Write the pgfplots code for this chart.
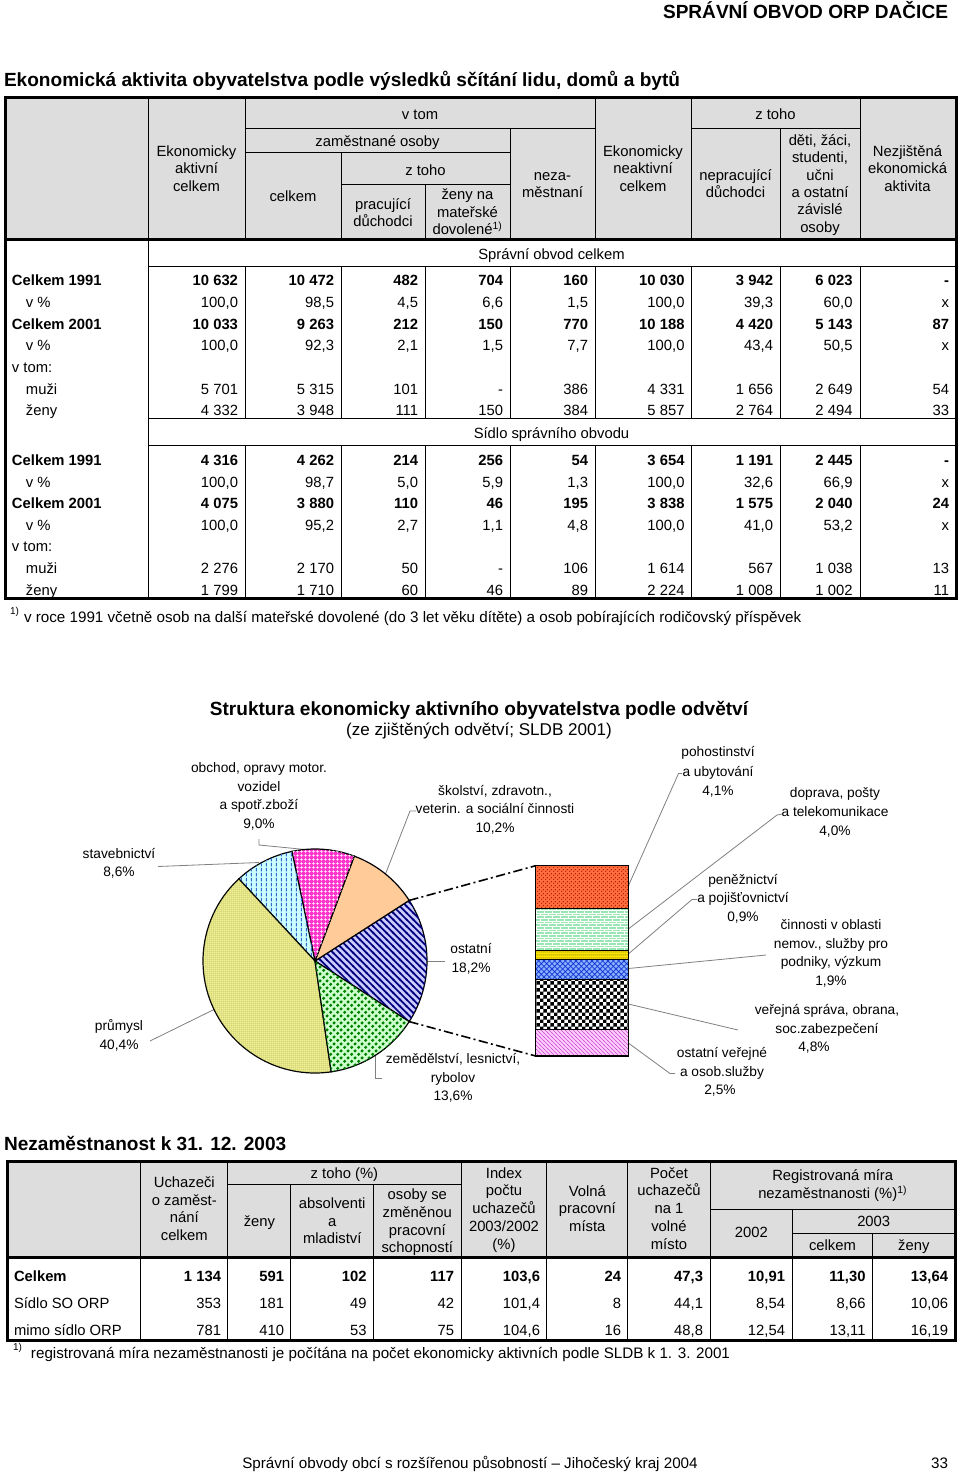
\documentclass[border=0pt]{standalone}
\usepackage{fontspec}
\setmainfont{Liberation Sans}
\usepackage{pgfplots}
\pgfplotsset{compat=1.18}
\usepackage{pgfplotstable}
\usetikzlibrary{patterns}

\definecolor{hdr}{RGB}{221,221,221}
\definecolor{lav}{RGB}{204,204,255}
\definecolor{navyS}{RGB}{0,0,128}
\definecolor{peach}{RGB}{255,204,153}
\definecolor{mgt}{RGB}{255,51,204}
\definecolor{lcyan}{RGB}{204,255,255}
\definecolor{blueD}{RGB}{51,102,204}
\definecolor{lyel}{RGB}{255,255,153}
\definecolor{dotG}{RGB}{90,90,50}
\definecolor{lgreen}{RGB}{204,255,204}
\definecolor{dgreen}{RGB}{0,128,0}
\definecolor{orng}{RGB}{255,110,60}
\definecolor{dred}{RGB}{170,20,0}
\definecolor{mint}{RGB}{153,230,179}
\definecolor{yel}{RGB}{255,230,0}
\definecolor{bluM}{RGB}{140,175,255}
\definecolor{bluD}{RGB}{20,60,210}
\definecolor{pinkL}{RGB}{255,204,255}
\definecolor{magL}{RGB}{204,80,204}
\definecolor{leader}{RGB}{128,128,128}

\pgfdeclarepatternformonly{thickNW}{\pgfqpoint{-1pt}{-1pt}}{\pgfqpoint{6pt}{6pt}}{\pgfqpoint{5pt}{5pt}}{%
  \pgfsetlinewidth{1.3pt}%
  \pgfpathmoveto{\pgfqpoint{-0.5pt}{5.5pt}}\pgfpathlineto{\pgfqpoint{5.5pt}{-0.5pt}}%
  \pgfusepath{stroke}}
\pgfdeclarepatternformonly{gdots}{\pgfpointorigin}{\pgfqpoint{5.5pt}{5.5pt}}{\pgfqpoint{5.5pt}{5.5pt}}{%
  \pgfpathcircle{\pgfqpoint{1.375pt}{1.375pt}}{1.4pt}%
  \pgfpathcircle{\pgfqpoint{4.125pt}{4.125pt}}{1.4pt}%
  \pgfusepath{fill}}
\pgfdeclarepatternformonly{vdash}{\pgfpointorigin}{\pgfqpoint{4pt}{4pt}}{\pgfqpoint{4pt}{4pt}}{%
  \pgfsetlinewidth{0.7pt}%
  \pgfpathmoveto{\pgfqpoint{2pt}{0.6pt}}\pgfpathlineto{\pgfqpoint{2pt}{3.4pt}}%
  \pgfusepath{stroke}}
\pgfdeclarepatternformonly{wgrid}{\pgfpointorigin}{\pgfqpoint{3pt}{3pt}}{\pgfqpoint{3pt}{3pt}}{%
  \pgfsetlinewidth{0.6pt}%
  \pgfpathmoveto{\pgfqpoint{0pt}{1.5pt}}\pgfpathlineto{\pgfqpoint{3pt}{1.5pt}}%
  \pgfpathmoveto{\pgfqpoint{1.5pt}{0pt}}\pgfpathlineto{\pgfqpoint{1.5pt}{3pt}}%
  \pgfusepath{stroke}}
\pgfdeclarepatternformonly{xhatch}{\pgfqpoint{-0.5pt}{-0.5pt}}{\pgfqpoint{4.5pt}{4.5pt}}{\pgfqpoint{4pt}{4pt}}{%
  \pgfsetlinewidth{0.6pt}%
  \pgfpathmoveto{\pgfqpoint{0pt}{0pt}}\pgfpathlineto{\pgfqpoint{4pt}{4pt}}%
  \pgfpathmoveto{\pgfqpoint{0pt}{4pt}}\pgfpathlineto{\pgfqpoint{4pt}{0pt}}%
  \pgfusepath{stroke}}
\pgfdeclarepatternformonly{checks}{\pgfpointorigin}{\pgfqpoint{5.2pt}{5.2pt}}{\pgfqpoint{5.2pt}{5.2pt}}{%
  \pgfpathrectangle{\pgfpointorigin}{\pgfqpoint{2.6pt}{2.6pt}}%
  \pgfpathrectangle{\pgfqpoint{2.6pt}{2.6pt}}{\pgfqpoint{2.6pt}{2.6pt}}%
  \pgfusepath{fill}}
\pgfdeclarepatternformonly{finedots}{\pgfpointorigin}{\pgfqpoint{1.8pt}{1.8pt}}{\pgfqpoint{1.8pt}{1.8pt}}{%
  \pgfpathcircle{\pgfqpoint{0.9pt}{0.9pt}}{0.5pt}\pgfusepath{fill}}
\pgfdeclarepatternformonly{meddots}{\pgfpointorigin}{\pgfqpoint{2.6pt}{2.6pt}}{\pgfqpoint{2.6pt}{2.6pt}}{%
  \pgfpathcircle{\pgfqpoint{0.65pt}{0.65pt}}{0.6pt}%
  \pgfpathcircle{\pgfqpoint{1.95pt}{1.95pt}}{0.6pt}\pgfusepath{fill}}
\pgfdeclarepatternformonly{thinNW}{\pgfqpoint{-0.5pt}{-0.5pt}}{\pgfqpoint{3.5pt}{3.5pt}}{\pgfqpoint{3pt}{3pt}}{%
  \pgfsetlinewidth{0.5pt}%
  \pgfpathmoveto{\pgfqpoint{-0.3pt}{3.3pt}}\pgfpathlineto{\pgfqpoint{3.3pt}{-0.3pt}}\pgfusepath{stroke}}
\pgfdeclarepatternformonly{wbricks}{\pgfqpoint{-0.5pt}{-0.5pt}}{\pgfqpoint{6.5pt}{4.5pt}}{\pgfqpoint{6pt}{4pt}}{%
  \pgfsetlinewidth{0.6pt}%
  \pgfpathmoveto{\pgfqpoint{0pt}{0pt}}\pgfpathlineto{\pgfqpoint{6pt}{0pt}}%
  \pgfpathmoveto{\pgfqpoint{0pt}{2pt}}\pgfpathlineto{\pgfqpoint{6pt}{2pt}}%
  \pgfpathmoveto{\pgfqpoint{0pt}{0pt}}\pgfpathlineto{\pgfqpoint{0pt}{2pt}}%
  \pgfpathmoveto{\pgfqpoint{3pt}{2pt}}\pgfpathlineto{\pgfqpoint{3pt}{4pt}}%
  \pgfusepath{stroke}}

% pie data (percent of economically active, SLDB 2001)
\pgfplotstableread{
sector value
ostatni 18.2
skolstvi 10.2
obchod 9.0
stavebnictvi 8.6
prumysl 40.4
zemedelstvi 13.6
}\piedata
\pgfplotstablegetelem{0}{value}\of\piedata\let\vA\pgfplotsretval
\pgfplotstablegetelem{1}{value}\of\piedata\let\vB\pgfplotsretval
\pgfplotstablegetelem{2}{value}\of\piedata\let\vC\pgfplotsretval
\pgfplotstablegetelem{3}{value}\of\piedata\let\vD\pgfplotsretval
\pgfplotstablegetelem{4}{value}\of\piedata\let\vE\pgfplotsretval
\pgfplotstablegetelem{5}{value}\of\piedata\let\vF\pgfplotsretval
\pgfmathsetmacro\aA{-\vA*1.8}
\pgfmathsetmacro\aB{\aA+\vA*3.6}
\pgfmathsetmacro\aC{\aB+\vB*3.6}
\pgfmathsetmacro\aD{\aC+\vC*3.6}
\pgfmathsetmacro\aE{\aD+\vD*3.6}
\pgfmathsetmacro\aF{\aE+\vE*3.6}
\pgfmathsetmacro\aG{\aF+\vF*3.6}

\newcommand\pieslice[3]{\draw[black,line width=0.9pt,#3] (axis cs:0,0) -- ++(#1:84pt) arc[start angle=#1,end angle=#2,radius=84pt] -- cycle;}

\newcommand\tf{\fontsize{11.1pt}{13pt}\selectfont}
\newcommand\ff{\fontsize{11.4pt}{13pt}\selectfont}
\newcommand\lf{\fontsize{10.3pt}{12pt}\selectfont}
\newcommand\hf{\fontsize{14.3pt}{17pt}\selectfont\bfseries}
\newcommand\tC[3]{\node[anchor=base] at (#1,#2) {#3};}
\newcommand\tL[3]{\node[anchor=base west] at (#1,#2) {#3};}
\newcommand\tR[3]{\node[anchor=base east] at (#1,#2) {#3};}
\def\rf{}
\def\rowy{0}
\newcommand\trow[9]{%
 \tR{238}{\rowy}{\rf #1}\tR{334}{\rowy}{\rf #2}\tR{418}{\rowy}{\rf #3}%
 \tR{503}{\rowy}{\rf #4}\tR{588}{\rowy}{\rf #5}\tR{684.5}{\rowy}{\rf #6}%
 \tR{773}{\rowy}{\rf #7}\tR{852.5}{\rowy}{\rf #8}\tR{949}{\rowy}{\rf #9}}
\newcommand\urow[9]{%
 \tR{221}{\rowy}{\rf #1}\tR{284}{\rowy}{\rf #2}\tR{366.5}{\rowy}{\rf #3}%
 \tR{454}{\rowy}{\rf #4}\tR{540}{\rowy}{\rf #5}\tR{621}{\rowy}{\rf #6}%
 \tR{703}{\rowy}{\rf #7}\tR{785}{\rowy}{\rf #8}\tR{865.5}{\rowy}{\rf #9}}

\begin{document}
\begin{tikzpicture}
\begin{scope}[x=0.75pt,y=-0.75pt,font=\tf,every node/.style={inner sep=0pt,outer sep=0pt}]
\fill[white] (0,0) rectangle (960,1473);

% page header and title
\tR{948}{19}{\hf SPRÁVNÍ OBVOD ORP DAČICE}
\tL{4}{86.5}{\hf Ekonomická aktivita obyvatelstva podle výsledků sčítání lidu, domů a bytů}

% ---------- top table ----------
\fill[hdr] (5,97.5) rectangle (956,239.3);
\begin{scope}[line width=0.75pt]
\draw (148,97.5) -- (148,598.5);
\foreach \x in {245,595,691,860} \draw (\x,97.5) -- (\x,239.3);
\draw (510,128.3) -- (510,239.3); \draw (780,128.3) -- (780,239.3);
\draw (341,152.7) -- (341,239.3); \draw (425,185) -- (425,239.3);
\draw (245,128.3) -- (595,128.3); \draw (691,128.3) -- (860,128.3);
\draw (245,152.7) -- (510,152.7); \draw (341,185) -- (510,185);
\foreach \x in {245,341,425,510,595,691,780,860} {\draw (\x,266.7) -- (\x,418.3); \draw (\x,445) -- (\x,598.5);}
\draw (148,266.7) -- (956,266.7); \draw (148,418.3) -- (956,418.3); \draw (148,445) -- (956,445);
\end{scope}
\draw[line width=2.25pt] (5,97.5) rectangle (956,598.5);
\draw[line width=2.25pt] (5,239.3) -- (956,239.3);

\tC{420}{119.5}{v tom}
\tC{775.5}{119.5}{z toho}
\tC{377.5}{146.5}{zaměstnané osoby}
\tC{425.5}{175.5}{z toho}
\tC{196.5}{156.5}{Ekonomicky}\tC{196.5}{173.8}{aktivní}\tC{196.5}{191.1}{celkem}
\tC{293}{201.5}{celkem}
\tC{383}{209.5}{pracující}\tC{383}{226.8}{důchodci}
\tC{467.5}{200}{ženy na}\tC{467.5}{217.5}{mateřské}\tC{467.5}{235}{dovolené\textsuperscript{1)}}
\tC{552.5}{180.5}{neza-}\tC{552.5}{198}{městnaní}
\tC{643}{156.5}{Ekonomicky}\tC{643}{173.8}{neaktivní}\tC{643}{191.1}{celkem}
\tC{735.5}{180.5}{nepracující}\tC{735.5}{198}{důchodci}
\tC{820}{145.5}{děti, žáci,}\tC{820}{163}{studenti,}\tC{820}{180.5}{učni}
\tC{820}{198}{a ostatní}\tC{820}{215}{závislé}\tC{820}{232.5}{osoby}
\tC{907.5}{156.5}{Nezjištěná}\tC{907.5}{173.8}{ekonomická}\tC{907.5}{191.1}{aktivita}
\tC{551.5}{259.5}{Správní obvod celkem}
\tC{551.5}{438.5}{Sídlo správního obvodu}

% section 1
\def\rowy{286}\def\rf{\bfseries}\tL{12}{\rowy}{\bfseries Celkem 1991}
\trow{10 632}{10 472}{482}{704}{160}{10 030}{3 942}{6 023}{-}
\def\rowy{307.6}\def\rf{}\tL{26}{\rowy}{v \%}
\trow{100,0}{98,5}{4,5}{6,6}{1,5}{100,0}{39,3}{60,0}{x}
\def\rowy{329.2}\def\rf{\bfseries}\tL{12}{\rowy}{\bfseries Celkem 2001}
\trow{10 033}{9 263}{212}{150}{770}{10 188}{4 420}{5 143}{87}
\def\rowy{350.8}\def\rf{}\tL{26}{\rowy}{v \%}
\trow{100,0}{92,3}{2,1}{1,5}{7,7}{100,0}{43,4}{50,5}{x}
\tL{12}{372.4}{v tom:}
\def\rowy{394}\tL{26}{\rowy}{muži}
\trow{5 701}{5 315}{101}{-}{386}{4 331}{1 656}{2 649}{54}
\def\rowy{415.6}\tL{26}{\rowy}{ženy}
\trow{4 332}{3 948}{111}{150}{384}{5 857}{2 764}{2 494}{33}
% section 2
\def\rowy{465.5}\def\rf{\bfseries}\tL{12}{\rowy}{\bfseries Celkem 1991}
\trow{4 316}{4 262}{214}{256}{54}{3 654}{1 191}{2 445}{-}
\def\rowy{487.1}\def\rf{}\tL{26}{\rowy}{v \%}
\trow{100,0}{98,7}{5,0}{5,9}{1,3}{100,0}{32,6}{66,9}{x}
\def\rowy{508.7}\def\rf{\bfseries}\tL{12}{\rowy}{\bfseries Celkem 2001}
\trow{4 075}{3 880}{110}{46}{195}{3 838}{1 575}{2 040}{24}
\def\rowy{530.3}\def\rf{}\tL{26}{\rowy}{v \%}
\trow{100,0}{95,2}{2,7}{1,1}{4,8}{100,0}{41,0}{53,2}{x}
\tL{12}{551.9}{v tom:}
\def\rowy{573.5}\tL{26}{\rowy}{muži}
\trow{2 276}{2 170}{50}{-}{106}{1 614}{567}{1 038}{13}
\def\rowy{595.1}\tL{26}{\rowy}{ženy}
\trow{1 799}{1 710}{60}{46}{89}{2 224}{1 008}{1 002}{11}

\tL{10}{614}{\fontsize{7.5pt}{8pt}\selectfont 1)}
\tL{24}{622}{\ff v roce 1991 včetně osob na další mateřské dovolené (do 3 let věku dítěte) a osob pobírajících rodičovský příspěvek}

% ---------- chart title and labels ----------
\tC{479}{715.5}{\hf Struktura ekonomicky aktivního obyvatelstva podle odvětví}
\tC{479}{735}{\fontsize{12.8pt}{15pt}\selectfont (ze zjištěných odvětví; SLDB 2001)}

\begin{scope}[font=\lf]
\tC{259}{772.8}{obchod, opravy motor.}\tC{259}{791.8}{vozidel}\tC{259}{809.8}{a spotř.zboží}\tC{259}{828.8}{9,0\%}
\tC{119}{858.8}{stavebnictví}\tC{119}{876.8}{8,6\%}
\tC{119}{1030.8}{průmysl}\tC{119}{1049.8}{40,4\%}
\tC{495}{795.8}{školství, zdravotn.,}\tC{495}{813.8}{veterin. a sociální činnosti}\tC{495}{832.8}{10,2\%}
\tC{471}{953.8}{ostatní}\tC{471}{972.8}{18,2\%}
\tC{453}{1063.8}{zemědělství, lesnictví,}\tC{453}{1082.8}{rybolov}\tC{453}{1100.8}{13,6\%}
\tC{718}{756.8}{pohostinství}\tC{718}{776.8}{a ubytování}\tC{718}{795.8}{4,1\%}
\tC{835}{797.8}{doprava, pošty}\tC{835}{816.8}{a telekomunikace}\tC{835}{835.8}{4,0\%}
\tC{743}{884.8}{peněžnictví}\tC{743}{902.8}{a pojišťovnictví}\tC{743}{921.8}{0,9\%}
\tC{831}{929.8}{činnosti v oblasti}\tC{831}{948.8}{nemov., služby pro}\tC{831}{966.8}{podniky, výzkum}\tC{831}{985.8}{1,9\%}
\tC{827}{1014.8}{veřejná správa, obrana,}\tC{827}{1033.8}{soc.zabezpečení}\tC{814}{1051.8}{4,8\%}
\tC{722}{1057.8}{ostatní veřejné}\tC{722}{1076.8}{a osob.služby}\tC{720}{1094.8}{2,5\%}
\end{scope}

\begin{scope}[draw=leader,line width=0.6pt]
\draw (259,839) -- (259,845) -- (305,849.5);
\draw (158,866.5) -- (259,862.5);
\draw (416,811) -- (410,811) -- (385.5,874);
\draw (427,961) -- (445,961);
\draw (375.6,1055) -- (375.6,1078) -- (382,1078);
\draw (150,1041) -- (214,1009.5);
\draw (628.3,886) -- (678.5,773.5) -- (682,773.5);
\draw (628.3,929) -- (777,815) -- (782,814);
\draw (628.3,954) -- (692,899.5) -- (697,899.5);
\draw (628.3,968.5) -- (766,955);
\draw (628.3,1004) -- (738,1030);
\draw (628.3,1043) -- (670,1073.5) -- (675,1073.5);
\end{scope}
\draw[line width=1.2pt,dash pattern=on 7pt off 2.5pt on 1.5pt off 2.5pt] (409.2,900.4) -- (535.7,865.7);
\draw[line width=1.2pt,dash pattern=on 7pt off 2.5pt on 1.5pt off 2.5pt] (409.2,1021.6) -- (535.7,1056);

% ---------- lower table ----------
\tL{4}{1150}{\hf Nezaměstnanost k 31. 12. 2003}
\fill[hdr] (7,1161.7) rectangle (955,1257.7);
\begin{scope}[line width=0.75pt]
\foreach \x in {140.8,227.8,461,546.8,627.7,710.3} \draw (\x,1161.7) -- (\x,1340);
\foreach \x in {290.9,373.5} \draw (\x,1184.3) -- (\x,1340);
\draw (792.4,1209) -- (792.4,1340); \draw (872.6,1233.3) -- (872.6,1340);
\draw (227.8,1184.3) -- (461,1184.3);
\draw (710.3,1209) -- (955,1209);
\draw (792.4,1233.3) -- (955,1233.3);
\end{scope}
\draw[line width=2.25pt] (7,1161.7) rectangle (955,1340);
\draw[line width=2.25pt] (7,1257.7) -- (955,1257.7);

\tC{184.3}{1187.5}{Uchazeči}\tC{184.3}{1205.5}{o zaměst-}\tC{184.3}{1222.5}{nání}\tC{184.3}{1240.5}{celkem}
\tC{344.4}{1178.5}{z toho (\%)}
\tC{259.4}{1226.5}{ženy}
\tC{332.2}{1208.5}{absolventi}\tC{332.2}{1226.5}{a}\tC{332.2}{1243.5}{mladiství}
\tC{417.3}{1199.5}{osoby se}\tC{417.3}{1217.5}{změněnou}\tC{417.3}{1235.5}{pracovní}\tC{417.3}{1252.5}{schopností}
\tC{504}{1178.5}{Index}\tC{504}{1195.5}{počtu}\tC{504}{1213.5}{uchazečů}\tC{504}{1231.5}{2003/2002}\tC{504}{1249.5}{(\%)}
\tC{587.3}{1196.5}{Volná}\tC{587.3}{1213.5}{pracovní}\tC{587.3}{1231.5}{místa}
\tC{669}{1178.5}{Počet}\tC{669}{1195.5}{uchazečů}\tC{669}{1213.5}{na 1}\tC{669}{1231.5}{volné}\tC{669}{1249.5}{místo}
\tC{832.7}{1180.5}{Registrovaná míra}\tC{832.7}{1198.5}{nezaměstnanosti (\%)\textsuperscript{1)}}
\tC{751.4}{1237.5}{2002}
\tC{873.7}{1226.5}{2003}
\tC{832.5}{1250.5}{celkem}\tC{913.8}{1250.5}{ženy}

\def\rowy{1281}\def\rf{\bfseries}\tL{14}{\rowy}{\bfseries Celkem}
\urow{1 134}{591}{102}{117}{103,6}{24}{47,3}{10,91}{11,30}\tR{948}{\rowy}{\bfseries 13,64}
\def\rowy{1308}\def\rf{}\tL{14}{\rowy}{Sídlo SO ORP}
\urow{353}{181}{49}{42}{101,4}{8}{44,1}{8,54}{8,66}\tR{948}{\rowy}{10,06}
\def\rowy{1335}\tL{14}{\rowy}{mimo sídlo ORP}
\urow{781}{410}{53}{75}{104,6}{16}{48,8}{12,54}{13,11}\tR{948}{\rowy}{16,19}

\tL{13}{1350}{\fontsize{7.5pt}{8pt}\selectfont 1)}
\tL{31}{1358.5}{\ff registrovaná míra nezaměstnanosti je počítána na počet ekonomicky aktivních podle SLDB k 1. 3. 2001}

% footer
\tC{470}{1468.5}{\fontsize{11.4pt}{13pt}\selectfont Správní obvody obcí s rozšířenou působností – Jihočeský kraj 2004}
\tR{948}{1468.5}{\fontsize{11.4pt}{13pt}\selectfont 33}
\end{scope}

% ---------- pie ----------
\begin{axis}[at={(236.25pt,-720.75pt)},anchor=center,scale only axis,
  width=168pt,height=168pt,xmin=-1,xmax=1,ymin=-1,ymax=1,hide axis,clip=false]
\pieslice{\aA}{\aB}{fill=lav,postaction={pattern=thickNW,pattern color=navyS}}
\pieslice{\aB}{\aC}{fill=peach}
\pieslice{\aC}{\aD}{fill=mgt,postaction={pattern=wgrid,pattern color=white}}
\pieslice{\aD}{\aE}{fill=lcyan,postaction={pattern=vdash,pattern color=blueD}}
\pieslice{\aE}{\aF}{fill=lyel,postaction={pattern=finedots,pattern color=dotG}}
\pieslice{\aF}{\aG}{fill=lgreen,postaction={pattern=gdots,pattern color=dgreen}}
\end{axis}

% ---------- bar of "ostatni" ----------
\begin{axis}[at={(401.775pt,-792pt)},anchor=south west,scale only axis,
  width=69.45pt,height=142.73pt,xmin=-0.5,xmax=0.5,ymin=0,ymax=18.2,
  hide axis,clip=false,ybar stacked,bar width=1]
\addplot[fill=pinkL,draw=black,line width=0.9pt,postaction={pattern=thinNW,pattern color=magL}] coordinates {(0,2.5)};
\addplot[fill=white,draw=black,line width=0.9pt,postaction={pattern=checks,pattern color=black}] coordinates {(0,4.8)};
\addplot[fill=bluM,draw=black,line width=0.9pt,postaction={pattern=xhatch,pattern color=bluD}] coordinates {(0,1.9)};
\addplot[fill=yel,draw=black,line width=0.9pt,postaction={pattern=finedots,pattern color=dotG}] coordinates {(0,0.9)};
\addplot[fill=mint,draw=black,line width=0.9pt,postaction={pattern=wbricks,pattern color=white}] coordinates {(0,4.0)};
\addplot[fill=orng,draw=black,line width=0.9pt,postaction={pattern=meddots,pattern color=dred}] coordinates {(0,4.1)};
\end{axis}
\end{tikzpicture}
\end{document}
